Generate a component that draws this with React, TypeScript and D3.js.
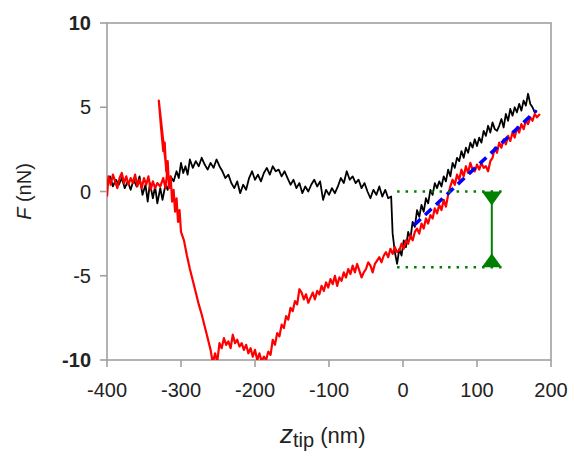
import React from 'react';
import * as d3 from 'd3';

// approach curve (black): [z_tip nm, F nN]
const approach: [number, number][] = [
  [-400, 0.5], [-396, 0.9], [-392, 0.3], [-388, 0.7], [-384, 0.4], [-380, 0.8], [-376, 0.2], [-372, 0.6],
  [-368, 0.1], [-364, 0.7], [-360, 0.3], [-356, 0.9], [-352, -0.2], [-348, 0.4], [-345, -0.6], [-342, 0.5],
  [-338, -0.4], [-335, 0.3], [-332, -0.7], [-328, 0.2], [-325, -0.5], [-321, 0.4], [-318, 0.1], [-314, 0.9],
  [-310, 0.6], [-306, 1.2], [-303, 0.8], [-300, 1.7], [-297, 1.1], [-294, 1.5], [-291, 1.0], [-288, 1.9],
  [-284, 1.4], [-280, 1.8], [-276, 1.5], [-272, 2.0], [-268, 1.6], [-264, 1.3], [-260, 1.7], [-256, 1.4],
  [-252, 1.9], [-248, 1.5], [-244, 1.2], [-240, 0.8], [-236, 1.0], [-232, 0.5], [-228, 0.2], [-224, 0.6],
  [-220, -0.1], [-216, 0.4], [-212, 0.1], [-208, 0.8], [-204, 1.2], [-200, 0.7], [-196, 1.0], [-192, 0.6],
  [-188, 1.1], [-184, 1.4], [-180, 1.0], [-176, 1.5], [-172, 1.2], [-168, 1.3], [-164, 0.9], [-160, 1.2],
  [-156, 0.8], [-152, 0.4], [-148, 0.7], [-144, 0.2], [-140, 0.5], [-136, -0.1], [-132, 0.3], [-128, 0.0],
  [-124, 0.4], [-120, 0.7], [-116, 0.3], [-112, 0.6], [-108, -0.5], [-104, 0.1], [-100, -0.2], [-96, 0.2],
  [-92, -0.1], [-88, 0.3], [-84, 0.8], [-80, 0.5], [-76, 1.2], [-72, 0.7], [-68, 0.9], [-64, 0.5],
  [-60, 0.7], [-56, 0.2], [-52, 0.5], [-48, 0.0], [-44, -0.4], [-40, 0.1], [-36, -0.2], [-32, 0.3],
  [-28, -0.3], [-24, 0.1], [-20, -0.4], [-16, -0.3], [-14, -2.5], [-11, -3.6], [-8, -4.3], [-5, -3.4],
  [-2, -3.8], [1, -2.9], [4, -3.3], [7, -2.4], [10, -2.8], [13, -1.8], [16, -2.1], [19, -1.1],
  [22, -1.5], [25, -0.8], [28, -1.2], [31, -0.4], [34, -0.7], [37, 0.1], [40, -0.2], [43, 0.5],
  [46, 0.2], [49, 0.6], [52, 0.3], [55, 0.9], [58, 0.6], [61, 1.3], [64, 0.9], [67, 1.7],
  [70, 1.4], [73, 2.0], [76, 1.8], [79, 2.4], [82, 2.0], [85, 2.6], [88, 2.3], [91, 2.9],
  [94, 2.6], [97, 3.1], [100, 2.7], [103, 3.2], [106, 2.9], [109, 3.6], [112, 3.3], [115, 3.9],
  [118, 3.5], [121, 4.1], [124, 3.7], [127, 3.6], [130, 3.9], [133, 4.3], [136, 3.8], [139, 4.6],
  [142, 4.2], [145, 4.9], [148, 4.5], [151, 5.0], [154, 4.7], [157, 5.2], [160, 4.8], [163, 5.4],
  [166, 5.1], [169, 5.8], [172, 5.2], [175, 5.0], [178, 4.7], [181, 4.8],
];

// retract curve (red)
const retract: [number, number][] = [
  [-400, -0.3], [-398, 0.9], [-395, 0.4], [-392, 1.0], [-389, 0.6], [-386, 0.2], [-383, 0.8], [-380, 1.1],
  [-377, 0.5], [-374, 0.9], [-371, 0.4], [-368, 0.8], [-365, 0.5], [-362, 1.0], [-359, 0.3], [-356, 0.7],
  [-353, 0.2], [-350, 0.8], [-347, 0.4], [-344, 0.9], [-341, 0.1], [-338, 0.6], [-335, 0.2], [-332, 0.5],
  [-328, 0.3], [-324, 0.8], [-321, 0.2], [-319, 1.0], [-323, 2.6], [-327, 4.2], [-330, 5.4],
  [-327, 3.8], [-324, 2.4], [-322, 2.9], [-320, 1.2], [-318, 1.8], [-316, 0.2], [-314, 0.9],
  [-312, -0.6], [-310, 0.1], [-308, -1.2], [-306, -0.4], [-304, -1.8], [-302, -1.1], [-300, -2.4], [-296, -2.9],
  [-292, -3.8], [-288, -4.6], [-284, -5.3], [-280, -6.0], [-276, -6.7], [-272, -7.3], [-268, -8.0], [-264, -8.7],
  [-260, -9.4], [-257, -10.2], [-254, -9.6], [-251, -10.1], [-248, -9.0], [-245, -9.3], [-242, -8.7], [-239, -9.1],
  [-236, -8.9], [-233, -9.3], [-230, -8.5], [-227, -9.0], [-224, -8.8], [-221, -9.2], [-218, -9.0], [-215, -9.4],
  [-212, -9.1], [-209, -9.6], [-206, -9.3], [-203, -9.8], [-200, -9.4], [-197, -10.0], [-194, -9.6], [-191, -10.1],
  [-188, -9.8], [-185, -10.0], [-182, -9.5], [-179, -9.7], [-176, -8.8], [-173, -9.1], [-170, -8.4], [-167, -8.6],
  [-164, -7.9], [-161, -8.1], [-158, -7.4], [-155, -7.6], [-152, -6.9], [-149, -7.1], [-146, -6.5], [-143, -6.7],
  [-140, -5.8], [-137, -6.0], [-134, -6.4], [-131, -6.1], [-128, -6.6], [-125, -6.3], [-122, -6.0], [-119, -6.4],
  [-116, -5.9], [-113, -6.1], [-110, -5.6], [-107, -5.9], [-104, -5.4], [-101, -5.7], [-98, -5.2], [-95, -5.5],
  [-92, -5.0], [-89, -5.6], [-86, -5.1], [-83, -5.3], [-80, -4.8], [-77, -5.1], [-74, -4.6], [-71, -4.9],
  [-68, -4.4], [-65, -4.8], [-62, -4.3], [-59, -4.7], [-56, -5.1], [-53, -4.8], [-50, -4.6], [-47, -4.2],
  [-44, -4.4], [-41, -4.8], [-38, -4.3], [-35, -4.1], [-32, -3.9], [-29, -4.2], [-26, -3.8], [-23, -3.6],
  [-20, -3.9], [-17, -3.4], [-14, -3.7], [-11, -3.3], [-8, -3.6], [-5, -3.5], [-2, -3.1], [1, -3.4],
  [4, -2.9], [7, -3.1], [10, -2.6], [13, -2.9], [16, -2.4], [19, -2.2], [22, -2.5], [25, -1.9],
  [28, -2.2], [31, -1.6], [34, -1.9], [37, -1.4], [40, -1.6], [43, -1.0], [46, -1.3], [49, -0.8],
  [52, -1.1], [55, -0.5], [58, -0.9], [61, -0.2], [64, 0.3], [67, 0.7], [70, 0.4], [73, 1.0],
  [76, 0.7], [79, 1.3], [82, 0.9], [85, 1.5], [88, 1.1], [91, 1.7], [94, 1.3], [97, 1.2],
  [100, 1.6], [103, 1.3], [106, 1.7], [109, 1.4], [112, 1.5], [115, 1.2], [118, 1.8], [121, 2.0],
  [124, 2.6], [127, 2.3], [130, 2.9], [133, 2.6], [136, 3.1], [139, 2.8], [142, 3.3], [145, 3.0],
  [148, 3.5], [151, 3.2], [154, 3.8], [157, 3.5], [160, 4.0], [163, 3.7], [166, 4.2], [169, 4.0],
  [172, 4.4], [175, 4.2], [178, 4.6], [181, 4.4], [185, 4.6],
];

// linear fit (blue dashed)
const fitLine: [number, number][] = [[15, -2.0], [180, 4.8]];

// adhesion marker (green)
const adhesionZ = 120;
const adhesionTop = 0;
const adhesionBottom = -4.5;
const guideStart = -8;
const guideEnd = 133;

const xTicks = [-400, -300, -200, -100, 0, 100, 200];
const yTicks = [10, 5, 0, -5, -10];
const boldY = [10, -10];

const W = 574;
const H = 457;
const left = 107;
const right = 551;
const top = 23;
const bottom = 360;

const axisColor = '#a0a0a0';
const textColor = '#222';
const font = 'Liberation Sans, Arial, sans-serif';

export default function App() {
  const x = d3.scaleLinear().domain([-400, 200]).range([left, right]);
  const y = d3.scaleLinear().domain([-10, 10]).range([bottom, top]);
  const line = d3.line<[number, number]>().x(d => x(d[0])).y(d => y(d[1]));

  const gx = x(adhesionZ);
  const tri = 10;
  const triH = 14;
  const yt = y(adhesionTop);
  const yb = y(adhesionBottom);

  return (
    <svg width={W} height={H} style={{ position: 'absolute', left: 0, top: 0, background: '#fff' }} fontFamily={font}>
      <defs>
        <clipPath id="plot">
          <rect x={left} y={top} width={right - left} height={bottom - top} />
        </clipPath>
      </defs>

      {/* frame */}
      <rect x={left} y={top} width={right - left} height={bottom - top} fill="none" stroke={axisColor} strokeWidth={1.6} />
      {yTicks.map(t => (
        <line key={'yt' + t} x1={left - 7} x2={left} y1={y(t)} y2={y(t)} stroke={axisColor} strokeWidth={1.6} />
      ))}
      {xTicks.map(t => (
        <line key={'xt' + t} x1={x(t)} x2={x(t)} y1={bottom} y2={bottom + 7} stroke={axisColor} strokeWidth={1.6} />
      ))}

      {/* tick labels */}
      {yTicks.map(t => (
        <text key={'yl' + t} x={left - 16} y={y(t)} textAnchor="end" dominantBaseline="central"
          fontSize={20} fontWeight={boldY.includes(t) ? 'bold' : 'normal'} fill={textColor}>
          {t}
        </text>
      ))}
      {xTicks.map(t => (
        <text key={'xl' + t} x={x(t)} y={bottom + 37} textAnchor="middle" fontSize={20} fill={textColor}>
          {t}
        </text>
      ))}

      {/* axis titles */}
      <text transform={`translate(31,${y(0)}) rotate(-90)`} textAnchor="middle" fontSize={20} fill={textColor}>
        <tspan fontStyle="italic">F</tspan> (nN)
      </text>
      <text x={280} y={443} fontSize={26} fill={textColor}>
        <tspan fontStyle="italic">z</tspan>
        <tspan fontSize={20} dy={4}>tip</tspan>
        <tspan fontSize={22} dy={-4}> (nm)</tspan>
      </text>

      <g clipPath="url(#plot)">
        <path d={line(approach) || ''} fill="none" stroke="#000" strokeWidth={1.8} strokeLinejoin="round" />
        <path d={line(retract) || ''} fill="none" stroke="#ff0000" strokeWidth={2.2} strokeLinejoin="round" />
        <path d={line(fitLine) || ''} fill="none" stroke="#0000ff" strokeWidth={3.5} strokeDasharray="9,6" />
      </g>

      {/* adhesion annotation */}
      <line x1={x(guideStart)} x2={x(guideEnd)} y1={yt} y2={yt} stroke="#008000" strokeWidth={2.5} strokeDasharray="2.5,6" />
      <line x1={x(guideStart)} x2={x(guideEnd)} y1={yb} y2={yb} stroke="#008000" strokeWidth={2.5} strokeDasharray="2.5,6" />
      <line x1={gx} x2={gx} y1={yt} y2={yb} stroke="#008000" strokeWidth={2} />
      <path d={`M${gx - tri},${yt} L${gx + tri},${yt} L${gx},${yt + triH} Z`} fill="#008000" />
      <path d={`M${gx - tri},${yb} L${gx + tri},${yb} L${gx},${yb - triH} Z`} fill="#008000" />
    </svg>
  );
}
